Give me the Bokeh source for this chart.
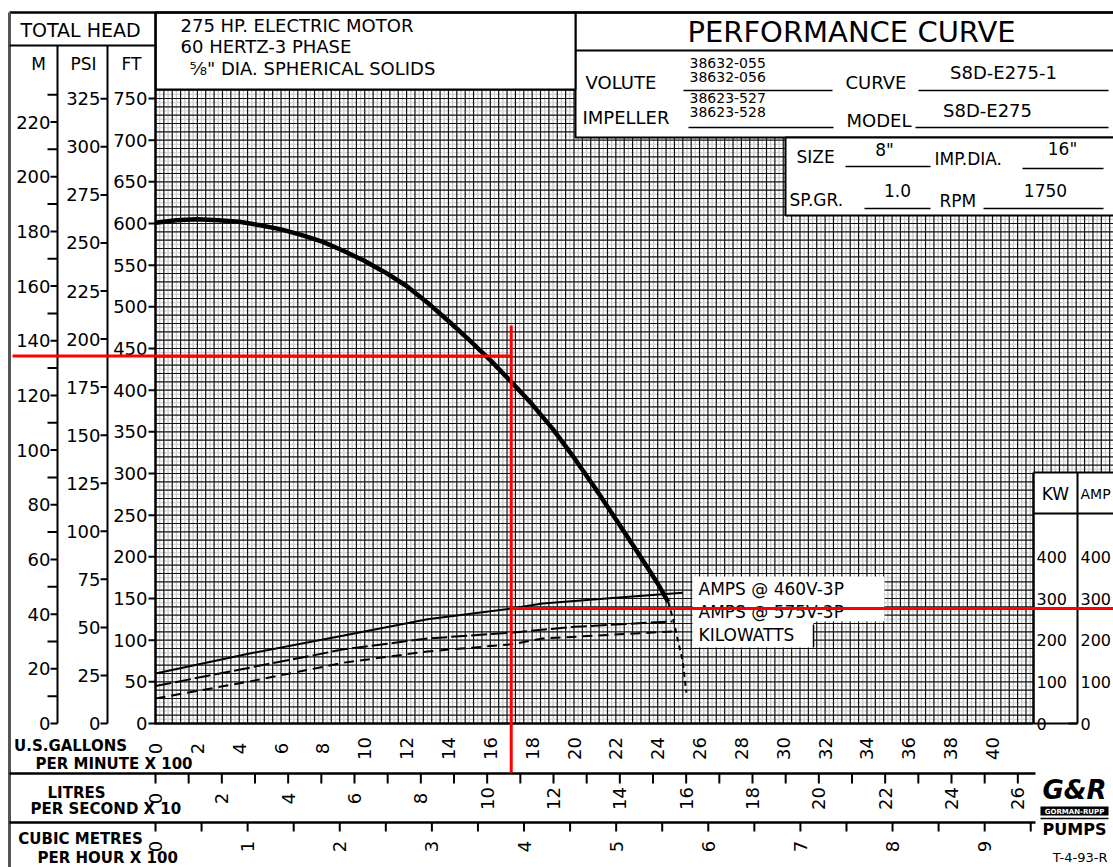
import math
from bokeh.plotting import figure
from bokeh.models import Range1d
from bokeh.core.properties import value
from bokeh.embed import file_html
from bokeh.resources import INLINE

# ---------------- data ----------------
head_gpm = [0, 100, 200, 300, 400, 500, 600, 700, 800, 900, 1000, 1100, 1200, 1300, 1400, 1500,
            1600, 1700, 1800, 1900, 2000, 2100, 2200, 2300, 2400, 2450]
head_ft = [601, 604, 605, 604, 602, 598, 593, 586, 578, 567, 555, 541, 525, 505, 483, 460,
           436, 410, 383, 353, 319, 283, 245, 207, 168, 146]
head_tail_gpm = [2450, 2475, 2500, 2520, 2537]
head_tail_ft = [146, 124, 96, 74, 37]

amps460_gpm = [0, 450, 900, 1300, 1700, 1850, 2200, 2520]
amps460 = [120, 168, 211, 250, 276, 288, 302, 314]
amps575_gpm = [0, 450, 900, 1300, 1700, 2000, 2470]
amps575 = [90, 134, 178, 204, 218, 232, 245]
kw_gpm = [0, 450, 900, 1300, 1700, 1850, 2475]
kw_vals = [60, 101, 146, 173, 190, 204, 221]

duty_gpm = 1700
duty_ft = 441
duty_amps = 276

ft_ticks = list(range(0, 751, 50))
psi_ticks = list(range(0, 326, 25))
m_ticks = list(range(0, 221, 20))
m_minor = list(range(10, 231, 20))
gpm_ticks = list(range(0, 41, 2))          # x 100 US gpm
lps_ticks = list(range(0, 27, 2))          # x 10 L/s
lps_minor = list(range(0, 27))
m3h_ticks = list(range(0, 10))             # x 100 m3/h
m3h_minor = [i * 0.5 for i in range(0, 20)]
kw_ticks = [0, 100, 200, 300, 400]

curve_labels = ["AMPS @ 460V-3P", "AMPS @ 575V-3P", "KILOWATTS"]

# ---------------- page geometry ----------------
W, H = 1113, 867
X0, SX = 155.0, 0.20925      # px of 0 gpm, px per gpm
Y0, SY = 723.0, 0.83333      # px of 0 ft, px per ft
FONT = "DejaVu Sans"


def gx(px):
    return (px - X0) / SX


def fy(py):
    return (Y0 - py) / SY


p = figure(width=W, height=H, x_range=Range1d(gx(0), gx(W)), y_range=Range1d(fy(H), fy(0)),
           output_backend="svg", toolbar_location=None, min_border=0,
           x_axis_location=None, y_axis_location=None)
p.grid.visible = False
p.outline_line_color = None
p.background_fill_color = "white"
p.border_fill_color = "white"

p.extra_y_ranges = {
    "m": Range1d(fy(H) / 3.28084, fy(0) / 3.28084),
    "psi": Range1d(fy(H) / 2.30666, fy(0) / 2.30666),
    "kw": Range1d(fy(H) * 2.0, fy(0) * 2.0),
}
p.extra_x_ranges = {
    "lps": Range1d(gx(0) / 158.503, gx(W) / 158.503),
    "m3h": Range1d(gx(0) / 440.287, gx(W) / 440.287),
}


def T(xpx, ypx, s, size=18, align="left", base="middle", angle=0.0, style="normal", color="black"):
    p.text(x=[gx(xpx)], y=[fy(ypx)], text=[s], text_font=value(FONT), text_font_size=f"{size}px",
           text_align=align, text_baseline=base, angle=angle, text_font_style=style, text_color=color)


def L(x0, y0, x1, y1, w=2, color="black"):
    p.segment(x0=[gx(x0)], y0=[fy(y0)], x1=[gx(x1)], y1=[fy(y1)], line_width=w, line_color=color)


# ---------------- grid ----------------
grid_top = 760
x_end = gx(W + 5)
gray_x = [20 + 40 * i for i in range(0, 120) if 20 + 40 * i < x_end]
black_x = [40 * i for i in range(0, 120) if 40 * i < x_end]
gray_y = [5 + 10 * i for i in range(0, 76)]
black_y = [10 * i for i in range(0, 77)]
p.segment(x0=gray_x, x1=gray_x, y0=0, y1=grid_top, line_color="#c4c4c4", line_width=1.3)
p.segment(x0=0, x1=x_end, y0=gray_y, y1=gray_y, line_color="#d6d6d6", line_width=1.1)
p.segment(x0=black_x, x1=black_x, y0=0, y1=grid_top, line_color="#111111", line_width=1.2)
p.segment(x0=0, x1=x_end, y0=black_y, y1=black_y, line_color="#111111", line_width=1.2)

# ---------------- curves ----------------
p.line(head_gpm, head_ft, line_color="black", line_width=4.5, line_join="round")
p.line(head_tail_gpm, head_tail_ft, line_color="black", line_width=2, line_dash="5 4")
p.line(amps460_gpm, amps460, y_range_name="kw", line_color="black", line_width=2)
p.line(amps575_gpm, amps575, y_range_name="kw", line_color="black", line_width=2, line_dash="16 4")
p.line(kw_gpm, kw_vals, y_range_name="kw", line_color="black", line_width=2, line_dash="10 6")

# curve labels
p.quad(left=[gx(692)], right=[gx(884)], top=[fy(576)], bottom=[fy(621)], fill_color="white", line_color=None)
p.quad(left=[gx(692)], right=[gx(813)], top=[fy(620)], bottom=[fy(647)], fill_color="white", line_color=None)
L(813, 624, 813, 647, 1.5)
for lab, ypx in zip(curve_labels, [588, 611, 634]):
    T(698, ypx, lab, size=17)

# ---------------- header / frame boxes ----------------
p.quad(left=[gx(575)], right=[gx(W + 10)], top=[fy(12)], bottom=[fy(137)], fill_color="white",
       line_color="black", line_width=2)
p.quad(left=[gx(785)], right=[gx(W + 10)], top=[fy(137)], bottom=[fy(215)], fill_color="white",
       line_color="black", line_width=2)
L(575, 50, W, 50, 2)
p.quad(left=[gx(155)], right=[gx(575)], top=[fy(12)], bottom=[fy(89)], fill_color="white",
       line_color="black", line_width=2)
p.quad(left=[gx(1033)], right=[gx(W + 10)], top=[fy(472)], bottom=[fy(H + 10)], fill_color="white",
       line_color=None)
L(1033, 472, 1033, 723, 2.5)
L(1033, 472, W, 472, 2)
L(1033, 513, W, 513, 2)
L(1077, 472, 1077, 723, 2)
L(1033, 723, 1077, 723, 2)
p.quad(left=[gx(0)], right=[gx(1033)], top=[fy(724)], bottom=[fy(H + 10)], fill_color="white", line_color=None)
p.quad(left=[gx(0)], right=[gx(154)], top=[fy(0)], bottom=[fy(H + 10)], fill_color="white", line_color=None)

L(9, 12, W, 12, 2.5)
L(9, 12, 9, H, 3, "#555555")
L(9, 45, 155, 45, 2)
L(57, 45, 57, 723, 2)
L(107, 45, 107, 723, 2)
L(155, 12, 155, 724, 2.5)
L(155, 723, 1033, 723, 2.5)
L(9, 773, 1035, 773, 2.5)
L(9, 822, 1035, 822, 2.5)

# header texts
T(80, 29, "TOTAL HEAD", size=19, align="center")
T(38, 63, "M", size=17, align="center")
T(83, 63, "PSI", size=17, align="center")
T(131, 63, "FT", size=17, align="center")
T(180, 25, "275 HP. ELECTRIC MOTOR", size=18)
T(180, 46, "60 HERTZ-3 PHASE", size=18)
T(189, 68, "\u215d\" DIA. SPHERICAL SOLIDS", size=18)

T(851, 31, "PERFORMANCE CURVE", size=29, align="center")
T(585, 82, "VOLUTE", size=18)
T(689, 62, "38632-055", size=14)
T(689, 76, "38632-056", size=14)
L(683, 90, 832, 90, 1.5)
T(845, 82, "CURVE", size=18)
T(1003, 72, "S8D-E275-1", size=18, align="center")
L(918, 90, 1108, 90, 1.5)
T(582, 117, "IMPELLER", size=18)
T(689, 97, "38623-527", size=14)
T(689, 111, "38623-528", size=14)
L(688, 127, 833, 127, 1.5)
T(846, 120, "MODEL", size=18)
T(987, 110, "S8D-E275", size=18, align="center")
L(915, 127, 1108, 127, 1.5)

T(796, 156, "SIZE", size=17)
T(884, 149, "8\"", size=17, align="center")
L(845, 166, 930, 166, 1.5)
T(934, 158, "IMP.DIA.", size=17)
T(1062, 148, "16\"", size=17, align="center")
L(1022, 168, 1103, 168, 1.5)
T(789, 199, "SP.GR.", size=17)
T(897, 190, "1.0", size=17, align="center")
L(864, 208, 930, 208, 1.5)
T(939, 200, "RPM", size=17)
T(1045, 190, "1750", size=17, align="center")
L(983, 208, 1103, 208, 1.5)

# ---------------- left scales ----------------
p.segment(x0=gx(148), x1=gx(155), y0=ft_ticks, y1=ft_ticks, line_width=2, line_color="black")
p.text(x=gx(147), y=ft_ticks, text=[str(v) for v in ft_ticks], text_font=value(FONT),
       text_font_size="18px", text_align="right", text_baseline="middle")
p.segment(x0=gx(100), x1=gx(107), y0=psi_ticks, y1=psi_ticks, y_range_name="psi", line_width=2, line_color="black")
p.text(x=gx(100), y=psi_ticks, text=[str(v) for v in psi_ticks], y_range_name="psi", text_font=value(FONT),
       text_font_size="18px", text_align="right", text_baseline="middle")
p.segment(x0=gx(50), x1=gx(57), y0=m_ticks, y1=m_ticks, y_range_name="m", line_width=2, line_color="black")
p.segment(x0=gx(47), x1=gx(57), y0=m_minor, y1=m_minor, y_range_name="m", line_width=2, line_color="black")
p.text(x=gx(50), y=m_ticks, text=[str(v) for v in m_ticks], y_range_name="m", text_font=value(FONT),
       text_font_size="18px", text_align="right", text_baseline="middle")

# ---------------- right scales ----------------
T(1055, 493, "KW", size=17, align="center")
T(1080, 493, "AMP", size=14)
p.text(x=gx(1036), y=kw_ticks, text=[str(v) for v in kw_ticks], y_range_name="kw", text_font=value(FONT),
       text_font_size="16px", text_align="left", text_baseline="middle")
p.text(x=gx(1080), y=kw_ticks, text=[str(v) for v in kw_ticks], y_range_name="kw", text_font=value(FONT),
       text_font_size="16px", text_align="left", text_baseline="middle")
p.segment(x0=gx(1068), x1=gx(1077), y0=[0], y1=[0], y_range_name="kw", line_width=2, line_color="black")

# ---------------- bottom scales ----------------
p.text(x=[v * 100 for v in gpm_ticks], y=fy(748), text=[str(v) for v in gpm_ticks], text_font=value(FONT),
       text_font_size="18px", text_align="center", text_baseline="middle", angle=math.pi / 2)
p.segment(x0=lps_minor, x1=lps_minor, y0=fy(773), y1=fy(783), x_range_name="lps", line_width=2, line_color="black")
p.text(x=lps_ticks, y=fy(798), text=[str(v) for v in lps_ticks], x_range_name="lps", text_font=value(FONT),
       text_font_size="18px", text_align="center", text_baseline="middle", angle=math.pi / 2)
p.segment(x0=m3h_minor, x1=m3h_minor, y0=fy(822), y1=fy(831), x_range_name="m3h", line_width=2, line_color="black")
p.text(x=m3h_ticks, y=fy(846), text=[str(v) for v in m3h_ticks], x_range_name="m3h", text_font=value(FONT),
       text_font_size="18px", text_align="center", text_baseline="middle", angle=math.pi / 2)

T(70, 745, "U.S.GALLONS", size=15, align="center", style="bold")
T(35, 763, "PER MINUTE X 100", size=15, style="bold")
T(76, 792, "LITRES", size=15, align="center", style="bold")
T(30, 808, "PER SECOND X 10", size=15, style="bold")
T(80, 838, "CUBIC METRES", size=15, align="center", style="bold")
T(37, 857, "PER HOUR X 100", size=15, style="bold")

# logo
T(1074, 789, "G&R", size=26, align="center", style="bold italic")
p.quad(left=[gx(1040)], right=[gx(1108)], top=[fy(806)], bottom=[fy(815)], fill_color="black", line_color=None)
T(1074, 811, "GORMAN-RUPP", size=7, align="center", style="bold", color="white")
L(1040, 818, 1108, 818, 1.5)
T(1074, 829, "PUMPS", size=16, align="center", style="bold")
T(1107, 857, "T-4-93-R", size=13, align="right")

# ---------------- red duty-point lines ----------------
red = "#ff0000"
p.segment(x0=[gx(12)], y0=[duty_ft], x1=[duty_gpm], y1=[duty_ft], line_color=red, line_width=3)
p.segment(x0=[duty_gpm], y0=[fy(772)], x1=[duty_gpm], y1=[fy(325)], line_color=red, line_width=3)
p.segment(x0=[duty_gpm], y0=[duty_amps], x1=[gx(W + 5)], y1=[duty_amps], y_range_name="kw",
          line_color=red, line_width=3)

open("out.html", "w").write(file_html(p, INLINE))
